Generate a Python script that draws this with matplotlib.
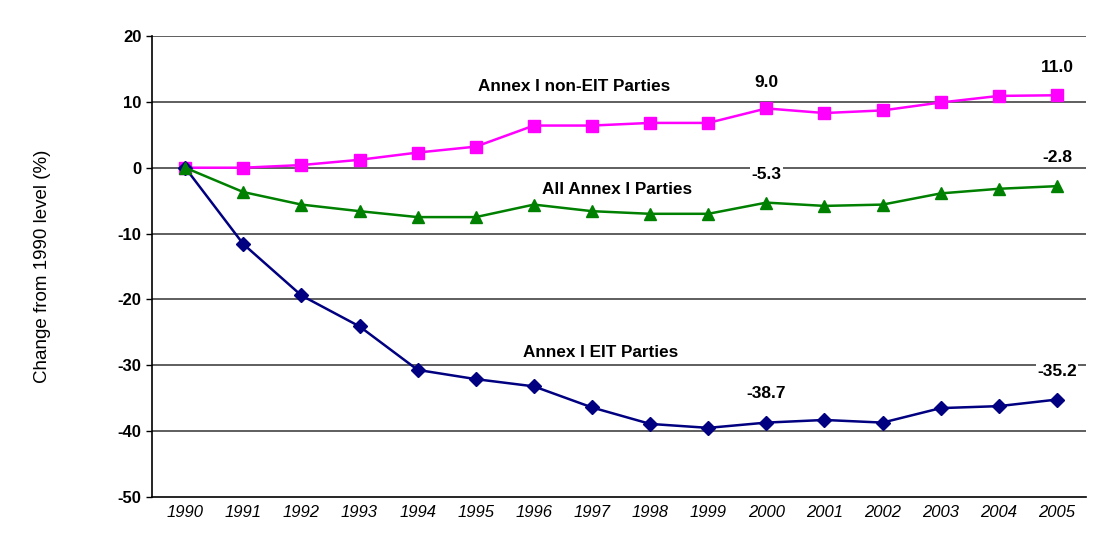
import numpy as np
import matplotlib.pyplot as plt

plt.rcParams['font.family'] = ['Liberation Sans', 'DejaVu Sans']
plt.rcParams['axes.unicode_minus'] = False

years = np.arange(1990, 2006)
non_eit = [0, 0, 0.4, 1.2, 2.3, 3.2, 6.4, 6.4, 6.8, 6.8, 9.0, 8.3, 8.7, 9.9, 10.9, 11.0]
all_annex = [0, -3.7, -5.6, -6.6, -7.5, -7.5, -5.6, -6.6, -7.0, -7.0, -5.3, -5.8, -5.6, -3.9, -3.2, -2.8]
eit = [0, -11.6, -19.4, -24.1, -30.7, -32.1, -33.2, -36.4, -38.9, -39.5, -38.7, -38.3, -38.7, -36.5, -36.2, -35.2]

fig = plt.figure(figsize=(11.02, 5.33), dpi=100)
ax = fig.add_axes([0.138, 0.0675, 0.8475, 0.865])

for v in range(-40, 30, 10):
    ax.axhline(v, color='#333333', lw=1.1, zorder=1)

ax.plot(years, non_eit, color='#FF00FF', marker='s', ms=9, lw=1.8, zorder=3)
ax.plot(years, eit, color='#000080', marker='D', ms=7.5, lw=1.8, zorder=3)
ax.plot(years, all_annex, color='#008000', marker='^', ms=9, lw=1.8, zorder=4)

ax.set_xlim(1989.43, 2005.5)
ax.set_ylim(-50, 20)
ax.set_yticks(range(-50, 30, 10))
ax.set_xticks(years)
ax.set_xticklabels([str(y) for y in years], fontstyle='italic', fontsize=12)
for lab in ax.get_yticklabels():
    lab.set_fontweight('bold')
    lab.set_fontsize(12)
ax.tick_params(axis='y', length=4, width=1, direction='out')
ax.tick_params(axis='x', length=0, pad=6)
for s in ['top', 'right']:
    ax.spines[s].set_visible(False)
ax.spines['left'].set_linewidth(1.2)
ax.spines['bottom'].set_linewidth(1.2)
ax.set_ylabel('Change from 1990 level (%)', fontsize=13.5, labelpad=48)

ax.text(1996.7, 12.3, 'Annex I non-EIT Parties', ha='center', va='center', fontsize=12.3, fontweight='bold')
ax.text(1997.43, -3.3, 'All Annex I Parties', ha='center', va='center', fontsize=12.3, fontweight='bold')
ax.text(1997.14, -28.1, 'Annex I EIT Parties', ha='center', va='center', fontsize=12.3, fontweight='bold')

bb = dict(facecolor='white', edgecolor='none', pad=1)
labels = [(2000, 9.0, 13.0), (2005, 11.0, 15.2), (2000, -5.3, -1.1),
          (2005, -2.8, 1.5), (2000, -38.7, -34.3), (2005, -35.2, -31.0)]
for x, val, ty in labels:
    ax.text(x, ty, f'{val:.1f}', ha='center', va='center', fontsize=12.5,
            fontweight='bold', bbox=bb, zorder=5)

fig.savefig('out.png', dpi=100)
